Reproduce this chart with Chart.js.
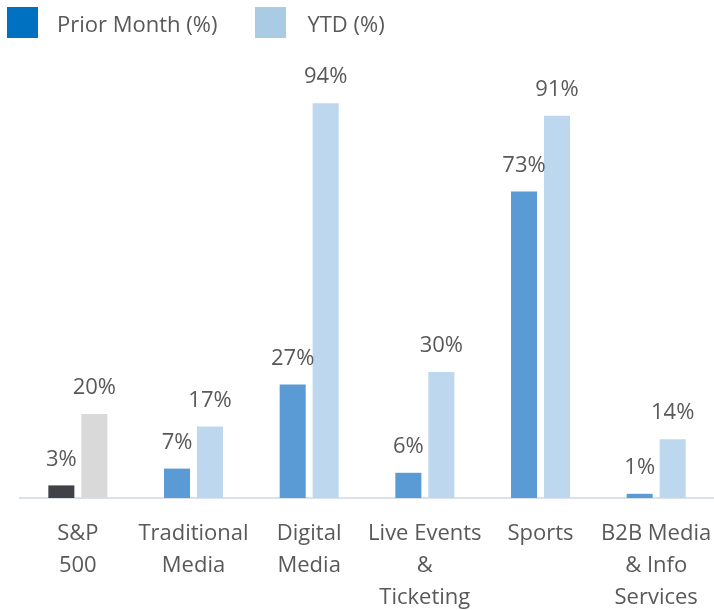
<!DOCTYPE html>
<html>
<head>
<meta charset="utf-8">
<script src="https://cdn.jsdelivr.net/npm/chart.js@4"></script>
<style>
  html, body { margin: 0; padding: 0; background: #fff; }
  #wrap { position: relative; width: 714px; height: 610px; }
  #legend { position: absolute; left: 7px; top: 7px; display: flex; align-items: center;
            font-family: "Open Sans", sans-serif; font-size: 22px; color: #595959; }
  #legend .box { width: 31px; height: 31px; margin-right: 19px; }
  #legend .item { display: flex; align-items: center; margin-right: 38px; }
  #legend .item:last-child .box { margin-right: 21px; }
</style>
</head>
<body>
<div id="wrap">
  <canvas id="chart" width="714" height="610"></canvas>
  <div id="legend"></div>
</div>
<script>
const categories = [
  ['S&P', '500'],
  ['Traditional', 'Media'],
  ['Digital', 'Media'],
  ['Live Events', '&', 'Ticketing'],
  ['Sports'],
  ['B2B Media', '& Info', 'Services']
];
const seriesNames = ['Prior Month (%)', 'YTD (%)'];
const priorMonth = [3, 7, 27, 6, 73, 1];
const ytd = [20, 17, 94, 30, 91, 14];

const legendColors = ['#0070C0', '#A9CCE4'];
const priorColors = ['#414247', '#5B9BD5', '#5B9BD5', '#5B9BD5', '#5B9BD5', '#5B9BD5'];
const ytdColors = ['#D9D9D9', '#BDD7EE', '#BDD7EE', '#BDD7EE', '#BDD7EE', '#BDD7EE'];

const textColor = '#595959';
const fontFamily = '"Open Sans", sans-serif';

// html legend
const legendEl = document.getElementById('legend');
seriesNames.forEach((name, i) => {
  const item = document.createElement('div');
  item.className = 'item';
  item.innerHTML = '<div class="box" style="background:' + legendColors[i] + '"></div><span>' + name + '</span>';
  legendEl.appendChild(item);
});

// draws the value labels above each bar
const barLabels = {
  id: 'barLabels',
  afterDatasetsDraw(chart) {
    const ctx = chart.ctx;
    ctx.save();
    ctx.font = '22px ' + fontFamily;
    ctx.fillStyle = textColor;
    ctx.textAlign = 'center';
    ctx.textBaseline = 'middle';
    chart.data.datasets.forEach((ds, di) => {
      chart.getDatasetMeta(di).data.forEach((bar, i) => {
        ctx.fillText(ds.data[i] + '%', bar.x, bar.y - 26);
      });
    });
    ctx.restore();
  }
};

new Chart(document.getElementById('chart'), {
  type: 'bar',
  data: {
    labels: categories,
    datasets: [
      { label: seriesNames[0], data: priorMonth, backgroundColor: priorColors },
      { label: seriesNames[1], data: ytd, backgroundColor: ytdColors }
    ]
  },
  options: {
    responsive: false,
    animation: false,
    layout: { padding: { top: 78, left: 20, right: 0, bottom: 0 } },
    datasets: {
      bar: { categoryPercentage: 0.57, barPercentage: 0.79 }
    },
    plugins: {
      legend: { display: false },
      tooltip: { enabled: false }
    },
    scales: {
      x: {
        grid: { display: false, drawTicks: true, tickLength: 20 },
        border: { display: true, color: '#D9E1EA', width: 2 },
        ticks: {
          color: textColor,
          font: { family: fontFamily, size: 22, lineHeight: 1.45 },
          padding: 0,
          maxRotation: 0,
          autoSkip: false
        },
        afterFit(scale) { scale.height = 112; }
      },
      y: {
        display: false,
        min: 0,
        max: 100
      }
    }
  },
  plugins: [barLabels]
});
</script>
</body>
</html>
